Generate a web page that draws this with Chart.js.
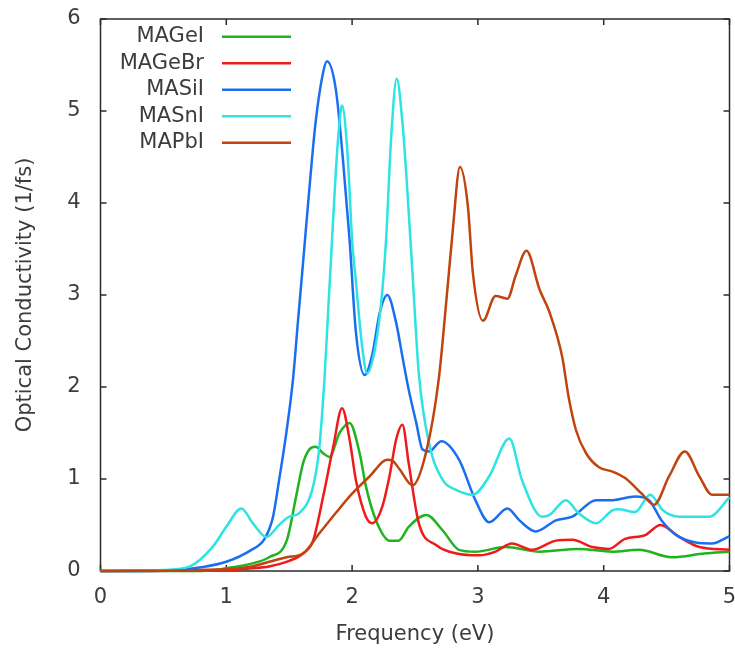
<!DOCTYPE html>
<html lang="en">
<head>
<meta charset="UTF-8">
<title>Optical Conductivity</title>
<script src="https://cdn.jsdelivr.net/npm/chart.js"></script>
<style>
    body, html {
        margin: 0;
        padding: 0;
        background: white;
        overflow: hidden;
    }
    #wrap {
        width: 735px;
        height: 650px;
    }
</style>
</head>
<body>
<div id="wrap"><canvas id="chart"></canvas></div>
<script>
// frequency (eV) / optical conductivity (1/fs)
const xGeI = [0, 0.8, 1.0, 1.2, 1.34, 1.48, 1.555, 1.61, 1.66, 1.71, 1.77, 1.82, 1.9, 1.98, 2.06, 2.11, 2.19, 2.3, 2.37, 2.45, 2.59, 2.72, 2.85, 2.98, 3.22, 3.49, 3.8, 4.07, 4.28, 4.54, 4.8, 5.0];
const yGeI = [0, 0, 0.03, 0.08, 0.15, 0.33, 0.81, 1.17, 1.32, 1.35, 1.28, 1.24, 1.5, 1.61, 1.28, 0.92, 0.55, 0.33, 0.33, 0.48, 0.61, 0.44, 0.23, 0.21, 0.26, 0.21, 0.24, 0.21, 0.23, 0.15, 0.19, 0.21];

const xGeBr = [0, 1.0, 1.2, 1.34, 1.5, 1.61, 1.69, 1.77, 1.85, 1.92, 1.98, 2.03, 2.11, 2.16, 2.24, 2.3, 2.35, 2.4, 2.45, 2.53, 2.67, 2.83, 3.01, 3.14, 3.27, 3.43, 3.62, 3.75, 3.91, 4.04, 4.17, 4.33, 4.45, 4.6, 4.76, 5.0];
const yGeBr = [0, 0.01, 0.03, 0.05, 0.11, 0.19, 0.33, 0.81, 1.35, 1.77, 1.43, 0.99, 0.59, 0.52, 0.7, 1.05, 1.43, 1.59, 1.17, 0.52, 0.28, 0.19, 0.17, 0.21, 0.3, 0.23, 0.33, 0.34, 0.26, 0.24, 0.35, 0.39, 0.5, 0.37, 0.26, 0.23];

const xSiI = [0, 0.4, 0.6, 0.8, 1.0, 1.2, 1.3, 1.37, 1.42, 1.48, 1.53, 1.57, 1.61, 1.66, 1.71, 1.77, 1.8, 1.87, 1.925, 1.98, 2.03, 2.1, 2.16, 2.22, 2.28, 2.35, 2.4, 2.45, 2.51, 2.56, 2.61, 2.71, 2.85, 2.98, 3.09, 3.235, 3.33, 3.46, 3.62, 3.75, 3.94, 4.07, 4.25, 4.36, 4.46, 4.6, 4.86, 5.0];
const ySiI = [0, 0, 0.01, 0.04, 0.1, 0.23, 0.34, 0.58, 0.99, 1.53, 2.08, 2.72, 3.35, 4.15, 4.88, 5.42, 5.54, 5.24, 4.51, 3.6, 2.6, 2.13, 2.35, 2.81, 3.0, 2.7, 2.33, 1.97, 1.61, 1.32, 1.3, 1.41, 1.21, 0.77, 0.53, 0.68, 0.55, 0.43, 0.55, 0.59, 0.77, 0.77, 0.81, 0.77, 0.55, 0.37, 0.3, 0.38];

const xSnI = [0, 0.3, 0.5, 0.71, 0.89, 1.0, 1.12, 1.21, 1.32, 1.42, 1.5, 1.58, 1.69, 1.74, 1.78, 1.81, 1.83, 1.87, 1.9, 1.92, 1.965, 2.0, 2.03, 2.08, 2.12, 2.18, 2.23, 2.27, 2.31, 2.355, 2.4, 2.43, 2.48, 2.53, 2.61, 2.72, 2.83, 2.96, 3.09, 3.25, 3.35, 3.51, 3.57, 3.7, 3.8, 3.94, 4.07, 4.12, 4.25, 4.37, 4.47, 4.6, 4.84, 5.0];
const ySnI = [0, 0, 0.01, 0.05, 0.26, 0.48, 0.68, 0.52, 0.37, 0.5, 0.59, 0.63, 0.92, 1.35, 2.08, 2.83, 3.33, 4.33, 4.88, 5.06, 4.51, 3.6, 3.15, 2.44, 2.15, 2.4, 2.9, 3.6, 4.7, 5.35, 4.88, 4.33, 3.24, 2.15, 1.4, 0.99, 0.88, 0.83, 1.03, 1.44, 0.99, 0.59, 0.61, 0.77, 0.63, 0.52, 0.66, 0.67, 0.64, 0.83, 0.66, 0.59, 0.59, 0.8];

const xPbI = [0, 1.0, 1.2, 1.34, 1.48, 1.61, 1.74, 1.87, 2.0, 2.14, 2.28, 2.32, 2.38, 2.48, 2.59, 2.69, 2.75, 2.8, 2.857, 2.92, 2.96, 3.04, 3.14, 3.235, 3.3, 3.386, 3.49, 3.57, 3.67, 3.72, 3.78, 3.86, 3.96, 4.07, 4.17, 4.31, 4.4, 4.52, 4.645, 4.76, 4.86, 5.0];
const yPbI = [0, 0.02, 0.05, 0.1, 0.15, 0.19, 0.41, 0.63, 0.84, 1.03, 1.21, 1.2, 1.1, 0.93, 1.3, 2.1, 2.95, 3.7, 4.39, 3.97, 3.24, 2.72, 2.99, 2.96, 3.21, 3.48, 3.06, 2.81, 2.33, 1.9, 1.53, 1.28, 1.13, 1.08, 1.01, 0.83, 0.72, 1.03, 1.3, 1.03, 0.83, 0.83];

const seriesNames = ['MAGeI', 'MAGeBr', 'MASiI', 'MASnI', 'MAPbI'];
const seriesX = [xGeI, xGeBr, xSiI, xSnI, xPbI];
const seriesY = [yGeI, yGeBr, ySiI, ySnI, yPbI];
const colors = ['#1fb31f', '#f01a1a', '#1a6ff0', '#2ee3e3', '#c0440f'];

const xTicks = [0, 1, 2, 3, 4, 5];
const yTicks = [0, 1, 2, 3, 4, 5, 6];

const font = "'DejaVu Sans', sans-serif";
const textColor = '#3c3c3c';

// gnuplot style frame with inward ticks on all four sides
const framePlugin = {
    id: 'frame',
    beforeDatasetsDraw(chart) {
        const ctx = chart.ctx;
        const a = chart.chartArea;
        const xs = chart.scales.x, ys = chart.scales.y;
        ctx.save();
        ctx.strokeStyle = '#2a2a2a';
        ctx.lineWidth = 1.5;
        ctx.strokeRect(a.left, a.top, a.right - a.left, a.bottom - a.top);
        ctx.beginPath();
        xTicks.forEach(v => {
            const px = xs.getPixelForValue(v);
            ctx.moveTo(px, a.bottom); ctx.lineTo(px, a.bottom - 6);
            ctx.moveTo(px, a.top); ctx.lineTo(px, a.top + 6);
        });
        yTicks.forEach(v => {
            const py = ys.getPixelForValue(v);
            ctx.moveTo(a.left, py); ctx.lineTo(a.left + 6, py);
            ctx.moveTo(a.right, py); ctx.lineTo(a.right - 6, py);
        });
        ctx.stroke();
        ctx.restore();
    }
};

// legend inside the plot: label right-aligned, sample line to the right
const keyPlugin = {
    id: 'key',
    afterDatasetsDraw(chart) {
        const ctx = chart.ctx;
        ctx.save();
        ctx.font = '21px ' + font;
        ctx.textAlign = 'right';
        ctx.textBaseline = 'middle';
        chart.data.datasets.forEach((ds, i) => {
            const y = 36.7 + i * 26.5;
            ctx.fillStyle = textColor;
            ctx.fillText(ds.label, 204, y);
            ctx.strokeStyle = ds.borderColor;
            ctx.lineWidth = 2.5;
            ctx.beginPath();
            ctx.moveTo(222, y);
            ctx.lineTo(291, y);
            ctx.stroke();
        });
        ctx.restore();
    }
};

const datasets = seriesNames.map((name, i) => ({
    label: name,
    data: seriesX[i].map((x, j) => ({x: x, y: seriesY[i][j]})),
    borderColor: colors[i],
    borderWidth: 2.5,
    pointRadius: 0,
    fill: false,
    cubicInterpolationMode: 'monotone',
    clip: 4,
    order: seriesNames.length - i
}));

new Chart(document.getElementById('chart'), {
    type: 'line',
    data: {datasets: datasets},
    options: {
        responsive: true,
        maintainAspectRatio: false,
        animation: false,
        layout: {padding: {top: 19, right: 5.5, bottom: 0, left: 0}},
        plugins: {
            legend: {display: false},
            tooltip: {enabled: false}
        },
        scales: {
            x: {
                type: 'linear',
                min: 0,
                max: 5,
                afterFit(scale) {
                    scale.height = 79;
                    scale.paddingLeft = 0;
                    scale.paddingRight = 0;
                },
                afterBuildTicks(scale) { scale.ticks = xTicks.map(v => ({value: v})); },
                grid: {display: false, drawTicks: false},
                border: {display: false},
                ticks: {
                    padding: 14,
                    color: textColor,
                    font: {family: font, size: 21}
                },
                title: {
                    display: true,
                    text: 'Frequency (eV)',
                    color: textColor,
                    font: {family: font, size: 21},
                    padding: {top: 0, bottom: 3}
                }
            },
            y: {
                min: 0,
                max: 6,
                afterFit(scale) {
                    scale.width = 100.5;
                    scale.paddingTop = 0;
                    scale.paddingBottom = 0;
                },
                afterBuildTicks(scale) { scale.ticks = yTicks.map(v => ({value: v})); },
                grid: {display: false, drawTicks: false},
                border: {display: false},
                ticks: {
                    padding: 20,
                    color: textColor,
                    font: {family: font, size: 21}
                },
                title: {
                    display: true,
                    text: 'Optical Conductivity (1/fs)',
                    color: textColor,
                    font: {family: font, size: 21},
                    padding: {top: 13, bottom: 0}
                }
            }
        }
    },
    plugins: [framePlugin, keyPlugin]
});
</script>
</body>
</html>
